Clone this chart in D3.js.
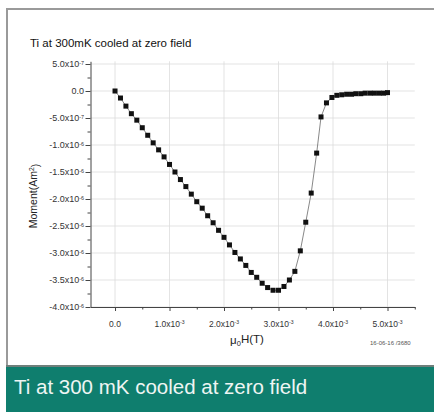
<!DOCTYPE html>
<html>
<head>
<meta charset="utf-8">
<script src="https://cdn.jsdelivr.net/npm/d3@7"></script>
<style>
  body { margin: 0; background: #fff; }
  svg { display: block; font-family: "Liberation Sans", Arial, sans-serif; }
</style>
</head>
<body>
<div id="chart"></div>
<script>
// field in mT (x 1e-3 T), moment in x 1e-6 Am^2
const fieldMilliT = [
  0.0, 0.1, 0.2, 0.3, 0.4, 0.5, 0.6, 0.7, 0.8, 0.9,
  1.0, 1.1, 1.2, 1.3, 1.4, 1.5, 1.6, 1.7, 1.8, 1.9,
  2.0, 2.1, 2.2, 2.3, 2.4, 2.5, 2.6, 2.7, 2.8, 2.9,
  3.0, 3.1, 3.2, 3.3, 3.4, 3.5, 3.6, 3.7, 3.78, 3.88,
  3.98, 4.07, 4.16, 4.25, 4.34, 4.42, 4.51, 4.59, 4.68, 4.76,
  4.85, 4.93, 5.0
];
const momentMicro = [
  0.00, -0.13, -0.28, -0.42, -0.54, -0.68, -0.82, -0.96, -1.09, -1.22,
  -1.36, -1.50, -1.64, -1.77, -1.91, -2.05, -2.17, -2.31, -2.44, -2.58,
  -2.71, -2.85, -2.99, -3.11, -3.23, -3.36, -3.45, -3.56, -3.64, -3.69,
  -3.69, -3.62, -3.50, -3.34, -2.96, -2.43, -1.89, -1.15, -0.48, -0.22,
  -0.12, -0.08, -0.07, -0.06, -0.06, -0.05, -0.05, -0.04, -0.04, -0.04,
  -0.04, -0.04, -0.03
];

const xTickValues = [0, 1, 2, 3, 4, 5];
const xTickLabels = [["0.0", ""], ["1.0x10", "-3"], ["2.0x10", "-3"], ["3.0x10", "-3"], ["4.0x10", "-3"], ["5.0x10", "-3"]];
const xMinorTicks = [0.5, 1.5, 2.5, 3.5, 4.5, 5.5];

const yTickValues = [0.5, 0, -0.5, -1, -1.5, -2, -2.5, -3, -3.5, -4];
const yTickLabels = [
  ["5.0x10", "-7"], ["0.0", ""], ["-5.0x10", "-7"], ["-1.0x10", "-6"], ["-1.5x10", "-6"],
  ["-2.0x10", "-6"], ["-2.5x10", "-6"], ["-3.0x10", "-6"], ["-3.5x10", "-6"], ["-4.0x10", "-6"]
];
const yMinorTicks = [0.25, -0.25, -0.75, -1.25, -1.75, -2.25, -2.75, -3.25, -3.75];

const chartTitle = "Ti at 300mK cooled at zero field";
const bannerTitle = "Ti at 300 mK cooled at zero field";
const stamp = "16-06-16 /3680";

const W = 434, H = 412;
const svg = d3.select("#chart").append("svg")
  .attr("width", W)
  .attr("height", H);

// frame
svg.append("path")
  .attr("d", "M434,9 H7 V366")
  .attr("fill", "none")
  .attr("stroke", "#9a9a9a")
  .attr("stroke-width", 2);

// banner
svg.append("rect")
  .attr("x", 6).attr("y", 366)
  .attr("width", W - 6).attr("height", H - 366)
  .attr("fill", "#0f7e6e");
svg.append("line")
  .attr("x1", 6).attr("x2", W)
  .attr("y1", 366).attr("y2", 366)
  .attr("stroke", "#6f7f7b")
  .attr("stroke-width", 2);
svg.append("text")
  .attr("x", 14).attr("y", 394)
  .attr("fill", "#eef5f3")
  .style("font-size", "20.5px")
  .text(bannerTitle);

// title
svg.append("text")
  .attr("x", 30).attr("y", 47)
  .attr("fill", "#111")
  .style("font-size", "11.5px")
  .text(chartTitle);

const x = d3.scaleLinear().domain([-0.45, 5.5]).range([90.5, 414.75]);
const y = d3.scaleLinear().domain([-4, 0.55]).range([307, 61.3]);

const plot = svg.append("g");

// grid
plot.selectAll(".vgrid").data(xTickValues).join("line")
  .attr("x1", d => x(d)).attr("x2", d => x(d))
  .attr("y1", y.range()[1]).attr("y2", y.range()[0])
  .attr("stroke", "#dcdcdc").attr("stroke-width", 0.8);
plot.selectAll(".hgrid").data(yTickValues).join("line")
  .attr("x1", x.range()[0]).attr("x2", x.range()[1])
  .attr("y1", d => y(d)).attr("y2", d => y(d))
  .attr("stroke", "#dcdcdc").attr("stroke-width", 0.8);

// axes
const xAxis = plot.append("g")
  .attr("transform", `translate(0,${y(-4)})`)
  .call(d3.axisBottom(x).tickValues(xTickValues).tickSize(4).tickSizeOuter(0).tickFormat(""));
xAxis.append("g").call(d3.axisBottom(x).tickValues(xMinorTicks).tickSize(2.5).tickSizeOuter(0).tickFormat(""))
  .select(".domain").remove();

const yAxis = plot.append("g")
  .attr("transform", `translate(${x.range()[0]},0)`)
  .call(d3.axisLeft(y).tickValues(yTickValues).tickSize(5).tickSizeOuter(0).tickFormat(""));
yAxis.append("g").call(d3.axisLeft(y).tickValues(yMinorTicks).tickSize(3).tickSizeOuter(0).tickFormat(""))
  .select(".domain").remove();

svg.selectAll(".domain, .tick line").attr("stroke", "#444").attr("stroke-width", 1);

// tick labels with superscript exponent
function label(sel, parts) {
  sel.append("tspan").text(parts[0]);
  if (parts[1]) {
    sel.append("tspan")
      .attr("dy", "-0.45em")
      .style("font-size", "0.6em")
      .text(parts[1]);
  }
}

plot.selectAll(".xlab").data(xTickValues).join("text")
  .attr("x", d => x(d))
  .attr("y", 326.5)
  .attr("text-anchor", "middle")
  .attr("fill", "#333")
  .style("font-size", "8.5px")
  .each(function(d, i) { label(d3.select(this), xTickLabels[i]); });

plot.selectAll(".ylab").data(yTickValues).join("text")
  .attr("x", 84)
  .attr("y", d => y(d) + 3)
  .attr("text-anchor", "end")
  .attr("fill", "#333")
  .style("font-size", "9px")
  .each(function(d, i) { label(d3.select(this), yTickLabels[i]); });

// axis titles
const xt = svg.append("text")
  .attr("x", 247).attr("y", 344)
  .attr("text-anchor", "middle")
  .attr("fill", "#222")
  .style("font-size", "11.5px");
xt.append("tspan").text("\u03bc");
xt.append("tspan").attr("dy", "0.3em").style("font-size", "0.65em").text("0");
xt.append("tspan").attr("dy", "-0.3em").text("H(T)");

const yt = svg.append("text")
  .attr("transform", "translate(37,196) rotate(-90)")
  .attr("text-anchor", "middle")
  .attr("fill", "#222")
  .style("font-size", "10.5px");
yt.append("tspan").text("Moment(Am");
yt.append("tspan").attr("dy", "-0.45em").style("font-size", "0.65em").text("2");
yt.append("tspan").attr("dy", "0.45em").text(")");

svg.append("text")
  .attr("x", 370).attr("y", 345)
  .attr("fill", "#555")
  .style("font-size", "6px")
  .text(stamp);

// data
const pts = fieldMilliT.map((f, i) => [f, momentMicro[i]]);
plot.append("path")
  .datum(pts)
  .attr("fill", "none")
  .attr("stroke", "#555")
  .attr("stroke-width", 0.7)
  .attr("d", d3.line().x(d => x(d[0])).y(d => y(d[1])));

plot.selectAll(".pt").data(pts).join("rect")
  .attr("x", d => x(d[0]) - 2.5)
  .attr("y", d => y(d[1]) - 2.5)
  .attr("width", 5).attr("height", 5)
  .attr("fill", "#111");
</script>
</body>
</html>
